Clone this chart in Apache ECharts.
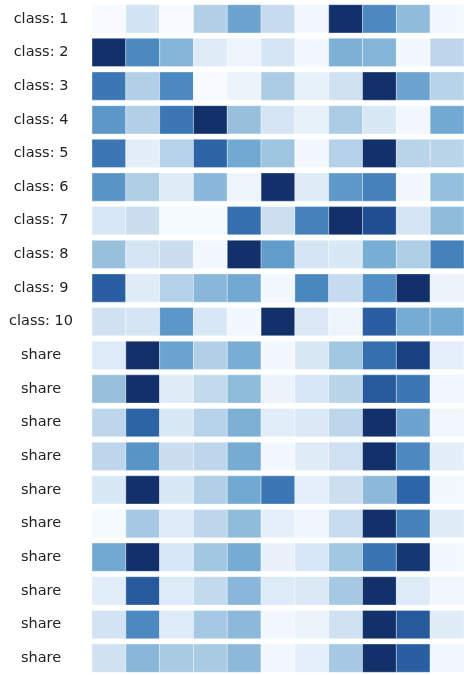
<!DOCTYPE html>
<html>
<head>
<meta charset="utf-8">
<script src="https://cdn.jsdelivr.net/npm/echarts@6/dist/echarts.min.js"></script>
<style>
  html, body { margin: 0; padding: 0; background: #fff; }
  #chart { width: 464px; height: 675px; }
</style>
</head>
<body>
<div id="chart"></div>
<script>
// row labels, top to bottom
var rowLabels = [
  'class: 1', 'class: 2', 'class: 3', 'class: 4', 'class: 5',
  'class: 6', 'class: 7', 'class: 8', 'class: 9', 'class: 10',
  'share', 'share', 'share', 'share', 'share',
  'share', 'share', 'share', 'share', 'share'
];
var columns = ['1', '2', '3', '4', '5', '6', '7', '8', '9', '10', '11'];

// row-normalised intensities (0 = lightest, 1 = darkest)
var classRows = [
  [0.00, 0.18, 0.00, 0.32, 0.52, 0.25, 0.02, 1.00, 0.62, 0.42, 0.02],
  [1.00, 0.62, 0.45, 0.12, 0.05, 0.17, 0.02, 0.47, 0.45, 0.02, 0.28],
  [0.70, 0.32, 0.62, 0.00, 0.06, 0.34, 0.08, 0.20, 1.00, 0.52, 0.30],
  [0.57, 0.32, 0.70, 1.00, 0.40, 0.17, 0.08, 0.34, 0.15, 0.02, 0.50],
  [0.70, 0.10, 0.30, 0.78, 0.50, 0.38, 0.02, 0.31, 1.00, 0.29, 0.29],
  [0.58, 0.33, 0.12, 0.44, 0.05, 1.00, 0.12, 0.56, 0.65, 0.02, 0.41],
  [0.16, 0.23, 0.01, 0.01, 0.73, 0.22, 0.65, 1.00, 0.87, 0.17, 0.42],
  [0.40, 0.17, 0.23, 0.02, 1.00, 0.55, 0.17, 0.15, 0.48, 0.33, 0.65],
  [0.80, 0.12, 0.31, 0.44, 0.50, 0.02, 0.63, 0.25, 0.60, 1.00, 0.06],
  [0.20, 0.17, 0.57, 0.16, 0.02, 1.00, 0.14, 0.05, 0.80, 0.49, 0.49]
];
var shareRows = [
  [0.13, 1.00, 0.52, 0.32, 0.48, 0.02, 0.15, 0.37, 0.73, 0.93, 0.09],
  [0.40, 1.00, 0.12, 0.26, 0.42, 0.06, 0.16, 0.29, 0.82, 0.70, 0.03],
  [0.28, 0.78, 0.15, 0.30, 0.47, 0.11, 0.14, 0.28, 1.00, 0.52, 0.03],
  [0.28, 0.58, 0.23, 0.28, 0.49, 0.02, 0.12, 0.21, 1.00, 0.62, 0.10],
  [0.15, 1.00, 0.15, 0.32, 0.50, 0.70, 0.09, 0.22, 0.43, 0.77, 0.02],
  [0.01, 0.36, 0.13, 0.28, 0.42, 0.09, 0.04, 0.24, 1.00, 0.65, 0.12],
  [0.50, 1.00, 0.16, 0.37, 0.49, 0.07, 0.16, 0.37, 0.71, 0.97, 0.02],
  [0.11, 0.82, 0.13, 0.26, 0.44, 0.13, 0.14, 0.36, 1.00, 0.13, 0.03],
  [0.19, 0.62, 0.13, 0.36, 0.43, 0.02, 0.06, 0.20, 1.00, 0.82, 0.12],
  [0.20, 0.44, 0.35, 0.35, 0.43, 0.02, 0.09, 0.36, 1.00, 0.80, 0.03]
];

// Blues, toned down a little in the darker half to match the picture
var blues = ['#f7fbff', '#deebf7', '#c6dbef', '#a0c6e0', '#72a9d2',
             '#4a88c0', '#306bac', '#1f4d92', '#12306a'];

var allRows = classRows.concat(shareRows);
var cells = [];
allRows.forEach(function (row, r) {
  row.forEach(function (v, c) {
    cells.push([c, r, v]);
  });
});

var chart = echarts.init(document.getElementById('chart'));
chart.setOption({
  animation: false,
  grid: { left: 92, top: 2, width: 375, height: 675 },
  xAxis: {
    type: 'category',
    data: columns,
    show: false
  },
  yAxis: {
    type: 'category',
    data: rowLabels.map(function (_, i) { return i; }),
    inverse: true,
    axisLine: { show: false },
    axisTick: { show: false },
    axisLabel: {
      interval: 0,
      align: 'center',
      margin: 51,
      fontFamily: 'DejaVu Sans',
      fontSize: 14.5,
      color: '#222',
      formatter: function (v) { return rowLabels[+v]; }
    }
  },
  visualMap: {
    show: false,
    min: 0,
    max: 1,
    dimension: 2,
    inRange: { color: blues }
  },
  series: [{
    type: 'custom',
    data: cells,
    encode: { x: 0, y: 1 },
    renderItem: function (params, api) {
      var p = api.coord([api.value(0), api.value(1)]);
      var s = api.size([1, 1]);
      var h = s[1] * 0.84;
      return {
        type: 'rect',
        shape: { x: p[0] - s[0] / 2, y: p[1] - h / 2, width: s[0], height: h },
        style: {
          fill: api.visual('color'),
          stroke: 'rgba(255,255,255,0.35)',
          lineWidth: 1
        }
      };
    }
  }]
});
</script>
</body>
</html>
